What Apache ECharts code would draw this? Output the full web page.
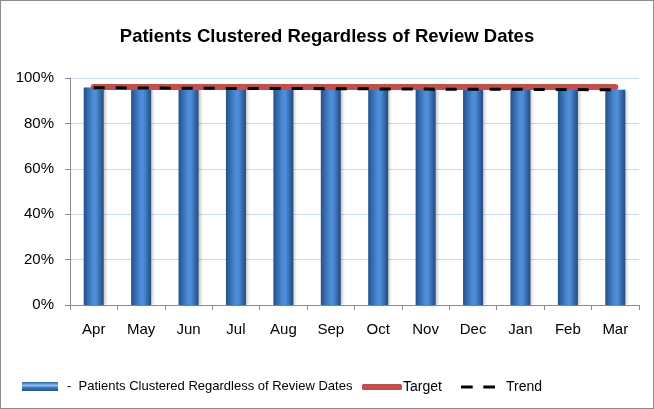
<!DOCTYPE html>
<html>
<head>
<meta charset="utf-8">
<script src="https://cdn.jsdelivr.net/npm/echarts@6/dist/echarts.min.js"></script>
<style>
  html, body { margin: 0; padding: 0; background: #fff; }
  #myChart { width: 654px; height: 409px; box-sizing: border-box; border: 1px solid #8c8c8c; }
</style>
</head>
<body>
<div id="myChart"></div>
<script>
// data
const months = ['Apr', 'May', 'Jun', 'Jul', 'Aug', 'Sep', 'Oct', 'Nov', 'Dec', 'Jan', 'Feb', 'Mar'];
const clustered = [95.8, 95.6, 95.5, 95.4, 95.4, 95.3, 95.2, 95.1, 95.0, 95.0, 94.9, 94.8];
const target = [96, 96, 96, 96, 96, 96, 96, 96, 96, 96, 96, 96];
const trend = [95.7, 95.6, 95.5, 95.4, 95.4, 95.3, 95.2, 95.1, 95.0, 95.0, 94.9, 94.8];
const yTicks = [0, 20, 40, 60, 80, 100];

const barName = 'Patients Clustered Regardless of Review Dates';
const font = 'Liberation Sans';

const barColor = new echarts.graphic.LinearGradient(0, 0, 1, 0, [
  {offset: 0, color: '#25508a'},
  {offset: 0.45, color: '#4a8ad6'},
  {offset: 0.6, color: '#4f8fdb'},
  {offset: 1, color: '#224a80'}
]);
const legendBarColor = new echarts.graphic.LinearGradient(0, 0, 0, 1, [
  {offset: 0, color: '#2f62a6'},
  {offset: 0.4, color: '#8fc0f0'},
  {offset: 0.6, color: '#3f7cc6'},
  {offset: 1, color: '#254f88'}
]);

let myChart = echarts.init(document.getElementById('myChart'));

let option = {
  animation: false,
  title: {
    text: barName,
    left: 'center',
    top: 21,
    textStyle: {fontFamily: font, fontSize: 18.5, fontWeight: 'bold', color: '#000'}
  },
  legend: [{
    data: [{name: barName, itemStyle: {color: legendBarColor}}],
    left: 16, top: 374,
    icon: 'rect', itemWidth: 36, itemHeight: 9, itemGap: 10,
    formatter: '-  {name}',
    textStyle: {fontFamily: font, fontSize: 13, color: '#000', padding: [0, 0, 0, 4]}
  }, {
    data: ['Target'],
    left: 356, top: 374,
    icon: 'roundRect', itemWidth: 40, itemHeight: 6, itemGap: 0,
    textStyle: {fontFamily: font, fontSize: 14, color: '#000', padding: [0, 0, 0, -4]}
  }, {
    data: [{name: 'Trend', icon: 'path://M0,0h11v3h-11z M21,0h11v3h-11z'}],
    left: 455, top: 374,
    itemWidth: 34, itemHeight: 4,
    textStyle: {fontFamily: font, fontSize: 14, color: '#000', padding: [0, 0, 0, 6]}
  }],
  grid: {left: 69, right: 14, top: 77, bottom: 103},
  xAxis: {
    type: 'category',
    data: months,
    axisLine: {lineStyle: {color: '#8c8c8c'}},
    axisTick: {show: true, length: 5, lineStyle: {color: '#8c8c8c'}},
    axisLabel: {fontFamily: font, fontSize: 15, color: '#000', margin: 17}
  },
  yAxis: {
    type: 'value',
    min: yTicks[0],
    max: yTicks[yTicks.length - 1],
    interval: 20,
    axisLine: {show: true, lineStyle: {color: '#8c8c8c'}},
    axisTick: {show: true, length: 5, lineStyle: {color: '#8c8c8c'}},
    axisLabel: {formatter: '{value}%', fontFamily: font, fontSize: 15, color: '#000', margin: 16},
    splitLine: {lineStyle: {color: '#c9daf0'}}
  },
  series: [{
    name: barName,
    type: 'bar',
    data: clustered,
    barWidth: 20,
    itemStyle: {color: barColor, shadowColor: 'rgba(0,0,0,0.25)', shadowBlur: 3, shadowOffsetX: 2}
  }, {
    name: 'Target',
    type: 'line',
    data: target,
    symbol: 'none',
    lineStyle: {color: '#c0504d', width: 6, cap: 'round'},
    itemStyle: {color: '#c0504d'},
    z: 3
  }, {
    name: 'Trend',
    type: 'line',
    data: trend,
    symbol: 'none',
    lineStyle: {color: '#000', width: 3, type: [11, 11]},
    itemStyle: {color: '#000'},
    z: 4
  }]
};

myChart.setOption(option, true);
</script>
</body>
</html>
